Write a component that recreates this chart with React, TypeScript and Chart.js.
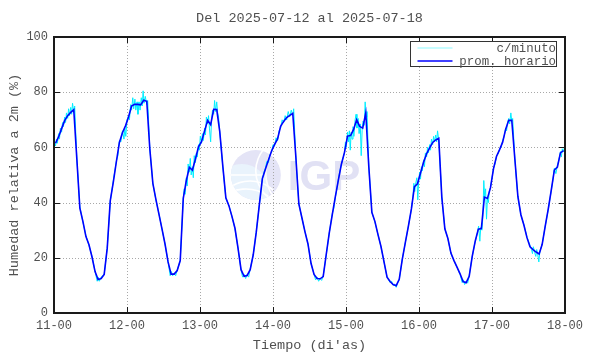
import React, { useEffect, useRef } from "react";
import { Chart, registerables } from "chart.js";

Chart.register(...registerables);

const TITLE = "Del 2025-07-12 al 2025-07-18";
const Y_TITLE = "Humedad relativa a 2m (%)";
const X_TITLE = "Tiempo (di'as)";
const DAY_LABELS = ["11-00", "12-00", "13-00", "14-00", "15-00", "16-00", "17-00", "18-00"];
const HOURS_PER_DAY = 24;
const Y_MIN = 0;
const Y_MAX = 100;
const Y_STEP = 20;
const SERIES_LABELS = ["c/minuto", "prom. horario"];
const WATERMARK = "IGP";

// hourly mean RH (%), one value per hour (plotted at the half hour), hours since 11-00
const HOURLY_RH = [
  61.5, 63.8, 66.8, 69.7, 71.5, 72.7, 73.7, 56, 38, 33.2, 27.7, 24.7, 20.3, 15, 12.1, 12.5, 14, 23.5, 40.7, 47.4, 54.8, 61.8, 65.3, 67.8,
  71, 75, 75.6, 75.6, 75.4, 77.1, 76.7, 59.5, 47, 41.2, 35.8, 30.5, 25, 18.5, 14.1, 14.1, 15.4, 19, 41.5, 48, 52.8, 51.7, 55.8, 60.2,
  62.1, 65.9, 69.8, 68.2, 73.8, 73.7, 65.7, 53.2, 41.7, 38.9, 35, 30.7, 23.5, 15.7, 13.3, 13.6, 15.7, 21.1, 29.3, 39.2, 48.7, 52.1, 55.4, 58.6,
  61, 63.1, 67.6, 69.4, 70.8, 71.6, 72.3, 56.8, 39.5, 34.5, 29.5, 25, 18, 14, 12.5, 12.4, 13.2, 21.2, 29, 35.7, 42.2, 48.2, 54, 58.2,
  64.1, 64.3, 66.5, 70, 67.6, 67, 72.5, 53, 36.5, 33.2, 28.5, 24.1, 18.5, 13, 11.4, 10.3, 9.9, 12.2, 19.4, 25.5, 31.4, 37.7, 45.8, 46.8,
  50.7, 54.6, 57.7, 59.8, 61.8, 62.7, 63.3, 42, 30.5, 27, 21.7, 19, 16.6, 14.2, 11.4, 11, 13.3, 20.5, 26.1, 30.4, 30.6, 42, 41.5, 45.4,
  52.3, 56.8, 59.2, 61.9, 66.6, 69.8, 69.8, 56, 42.3, 35.6, 31.8, 27.3, 24, 23, 22.1, 21.4, 24.9, 31.5, 37.7, 44.6, 51.8, 52.9, 58, 58.8,
];

// per-minute RH samples: [hours since 11-00, RH %]
const MINUTE_RH: [number, number][] = [
  [0, 55], [0.1, 62], [0.5, 60.5], [0.8, 63], [1.1, 61.5], [1.5, 65], [1.8, 63], [2.1, 67], [2.5, 65.5], [2.8, 69], [3.1, 67.5], [3.5, 71], [3.8, 69], [4.1, 72.5], [4.5, 70.5], [4.8, 74], [5.1, 71.5], [5.5, 74.5], [5.8, 72], [6.1, 76], [6.5, 72.5], [6.8, 75],
  [7.5, 56], [8.5, 38.5], [9.5, 33], [10.5, 28], [11.5, 24.5], [12.5, 20.5], [13.5, 15], [14.2, 11.5], [14.5, 13], [14.9, 11.5], [15.5, 13], [16.5, 14], [17.5, 23.5], [18.5, 40.5], [19.5, 48], [20.5, 55], [21, 57], [21.5, 62.5], [22, 62], [22.5, 66], [23, 63], [23.3, 67], [23.6, 64],
  [24, 70], [24.5, 71.5], [24.8, 70], [25.2, 75.5], [25.5, 73.5], [25.9, 78], [26.2, 74], [26.6, 77.5], [26.9, 73.5], [27.3, 76.5], [27.6, 72], [28, 76.5], [28.3, 73.5], [28.7, 78], [29, 75], [29.3, 80.5], [29.6, 76], [30, 78.5], [30.5, 75.5], [30.8, 77],
  [31.5, 59.5], [32.5, 47], [33.5, 41], [34.5, 36], [35.5, 30.5], [36.5, 25], [37.5, 18.5], [38.2, 13.5], [38.6, 15], [39, 13.5], [39.5, 14.5], [40, 13.5], [40.5, 15.5], [41.5, 19],
  [42.5, 41.5], [42.8, 45], [43.1, 43], [43.5, 49], [43.8, 46], [44.1, 54], [44.5, 51], [44.8, 56], [45.1, 50], [45.5, 53], [45.8, 49], [46.1, 57], [46.5, 54.5], [46.8, 58], [47.1, 56.5], [47.5, 61], [47.8, 59],
  [48.1, 64], [48.5, 61.5], [48.8, 65], [49.1, 62.5], [49.5, 67], [49.8, 64.5], [50.1, 71], [50.5, 68.5], [50.8, 71.5], [51.1, 67], [51.5, 62], [51.8, 70], [52.1, 73.5], [52.5, 72], [52.8, 77], [53.1, 73], [53.5, 76.5], [53.8, 72.5], [54.1, 71],
  [54.5, 65.5], [55.5, 53], [56.5, 41.5], [57.5, 39], [58.5, 35], [59.5, 30.5], [60.5, 23.5], [61.5, 15.5], [62, 13], [62.5, 14], [63, 12.5], [63.5, 14], [64, 13], [64.5, 16], [65.5, 21], [66.5, 29.5], [67.5, 39],
  [68.5, 48.5], [69, 51], [69.5, 52.5], [70, 55], [70.5, 54.5], [71, 57.5], [71.5, 58], [72, 61], [72.5, 60.5], [73, 63.5], [73.5, 62.5], [74, 66], [74.5, 67], [75, 70], [75.5, 69], [76, 71.5], [76.5, 70], [77, 73], [77.5, 71], [78, 73.5], [78.5, 71.5], [78.8, 74],
  [79.5, 56.5], [80.5, 39.5], [81.5, 34.5], [82.5, 29.5], [83.5, 25], [84.5, 18], [85.5, 14], [86, 12], [86.5, 13], [87, 11.5], [87.5, 12.5], [88, 11.8], [88.5, 13.5], [89.5, 21], [90.5, 29],
  [91.5, 36], [92, 38], [92.5, 42], [93, 45], [93.5, 48.5], [94, 51.5], [94.5, 54], [95, 56], [95.5, 58], [95.8, 62], [96.1, 60], [96.5, 65.5], [96.8, 62], [97.1, 66], [97.4, 59], [97.7, 65.5], [98, 63], [98.3, 67.5], [98.6, 64], [99, 70], [99.3, 72], [99.6, 67],
  [100, 70.5], [100.3, 65], [100.7, 68.5], [101, 57], [101.3, 66], [101.6, 69.5], [102, 68], [102.3, 76.5], [102.6, 71], [102.9, 73],
  [103.5, 53], [104.5, 36.5], [105.5, 33], [106.5, 28.5], [107.5, 24], [108.5, 18.5], [109.5, 13], [110.5, 11], [111, 11.5], [111.5, 10], [112, 10.5], [112.5, 9.3], [113, 11], [113.5, 12], [114.5, 19.5], [115.5, 25.5], [116.5, 31.5], [117.5, 37.5],
  [118, 42], [118.3, 47], [118.6, 44], [119, 47.5], [119.3, 49], [119.6, 41], [119.9, 48], [120.2, 51], [120.5, 48.5], [120.8, 53], [121.1, 51.5], [121.5, 55.5], [121.8, 53], [122.1, 58], [122.5, 56.5], [122.8, 60], [123.1, 58], [123.5, 61], [123.8, 59], [124.1, 63], [124.5, 61], [124.8, 64], [125.1, 62], [125.5, 64.5], [125.8, 62], [126.1, 66], [126.5, 62.5],
  [127.5, 42], [128.5, 30.5], [129.5, 27], [130.5, 21.5], [131.5, 19], [132.5, 16.5], [133.5, 14], [134.2, 11], [134.6, 12], [135, 10.3], [135.5, 11.5], [136, 10.8], [136.5, 13.5], [137.5, 20.5], [138.5, 26], [139.2, 29], [139.6, 31.5], [140, 26], [140.3, 31], [140.7, 30],
  [141, 35], [141.3, 48], [141.6, 42], [141.9, 45], [142.2, 34], [142.5, 42], [142.8, 40], [143.1, 44], [143.5, 45.5], [144, 49], [144.5, 52.5], [145, 54], [145.5, 57], [146, 57.5], [146.5, 59.5], [147, 60], [147.5, 62.5], [148, 64], [148.5, 67], [148.8, 66], [149.1, 69], [149.5, 70.5], [149.8, 68.5], [150.2, 72.5], [150.5, 69.5], [150.8, 70.5],
  [151.5, 56], [152.5, 42], [153.5, 35.5], [154.5, 32], [155.5, 27.5], [156.5, 24.5], [157, 23], [157.3, 21.5], [157.6, 24], [158, 22], [158.4, 20.5], [158.7, 23], [159, 21.5], [159.4, 18.5], [159.7, 22], [160.5, 25], [161.5, 31.5], [162.5, 37.5], [163.5, 44.5],
  [164, 48], [164.5, 52.5], [165, 50.5], [165.5, 53.5], [166, 55.5], [166.5, 58.5], [166.8, 56.5], [167.1, 59.5], [167.5, 58.5], [167.8, 60], [168, 59],
];

const MONO = "'Liberation Mono', 'DejaVu Sans Mono', monospace";
const TEXT_COLOR = "#505050";
const CYAN = "#00eeff";
const BLUE = "#0000ff";

const decorPlugin = {
  id: "gnuplotDecor",
  beforeDatasetsDraw(chart: any) {
    const { ctx, chartArea, scales } = chart;
    const { left, right, top, bottom } = chartArea;
    const w = right - left;
    const h = bottom - top;
    ctx.save();
    // watermark logo
    const cx = left + w * 0.395;
    const cy = top + h * 0.5;
    const r = 25;
    ctx.beginPath();
    ctx.arc(cx, cy, r, 0, Math.PI * 2);
    ctx.fillStyle = "#e4e4f6";
    ctx.fill();
    ctx.save();
    ctx.beginPath();
    ctx.arc(cx, cy, r, 0, Math.PI * 2);
    ctx.clip();
    ctx.beginPath();
    ctx.arc(cx - 14, cy + 16, 27, 0, Math.PI * 2);
    ctx.fillStyle = "#e9f3fc";
    ctx.fill();
    ctx.strokeStyle = "#ffffff";
    ctx.lineWidth = 1.6;
    ctx.beginPath();
    ctx.arc(cx + 34, cy - 4, 34, Math.PI * 0.62, Math.PI * 1.3);
    ctx.stroke();
    ctx.beginPath();
    ctx.arc(cx + 50, cy - 2, 40, Math.PI * 0.7, Math.PI * 1.25);
    ctx.stroke();
    ctx.beginPath();
    ctx.arc(cx - 6, cy + 40, 34, Math.PI * 1.2, Math.PI * 1.75);
    ctx.stroke();
    ctx.beginPath();
    ctx.arc(cx - 10, cy + 52, 38, Math.PI * 1.25, Math.PI * 1.7);
    ctx.stroke();
    ctx.beginPath();
    ctx.moveTo(cx - r, cy);
    ctx.lineTo(cx + 8, cy);
    ctx.stroke();
    ctx.restore();
    ctx.fillStyle = "#e1e1f4";
    ctx.font = "bold 42px 'Liberation Sans', Arial, sans-serif";
    ctx.textBaseline = "alphabetic";
    ctx.textAlign = "left";
    ctx.fillText(WATERMARK, cx + 32, cy + 15);

    // dotted grid
    ctx.strokeStyle = "#a8a8a8";
    ctx.lineWidth = 1;
    ctx.setLineDash([1, 2]);
    const xs = scales.x;
    const ys = scales.y;
    for (let d = 1; d < DAY_LABELS.length - 1; d++) {
      const px = Math.round(xs.getPixelForValue(d * HOURS_PER_DAY)) + 0.5;
      ctx.beginPath();
      ctx.moveTo(px, top);
      ctx.lineTo(px, bottom);
      ctx.stroke();
    }
    for (let v = Y_MIN + Y_STEP; v < Y_MAX; v += Y_STEP) {
      const py = Math.round(ys.getPixelForValue(v)) + 0.5;
      ctx.beginPath();
      ctx.moveTo(left, py);
      ctx.lineTo(right, py);
      ctx.stroke();
    }
    ctx.restore();
  },
  afterDatasetsDraw(chart: any) {
    const { ctx, chartArea, scales } = chart;
    const { left, right, top, bottom } = chartArea;
    const xs = scales.x;
    const ys = scales.y;
    ctx.save();
    ctx.strokeStyle = "#1a1a1a";
    ctx.lineWidth = 1;
    const tl = 6;
    for (let d = 1; d < DAY_LABELS.length - 1; d++) {
      const px = Math.round(xs.getPixelForValue(d * HOURS_PER_DAY)) + 0.5;
      ctx.beginPath();
      ctx.moveTo(px, bottom);
      ctx.lineTo(px, bottom - tl);
      ctx.moveTo(px, top);
      ctx.lineTo(px, top + tl);
      ctx.stroke();
    }
    for (let v = Y_MIN + Y_STEP; v < Y_MAX; v += Y_STEP) {
      const py = Math.round(ys.getPixelForValue(v)) + 0.5;
      ctx.beginPath();
      ctx.moveTo(left, py);
      ctx.lineTo(left + tl, py);
      ctx.moveTo(right, py);
      ctx.lineTo(right - tl, py);
      ctx.stroke();
    }
    ctx.lineWidth = 2;
    ctx.strokeRect(Math.round(left), Math.round(top), Math.round(right - left), Math.round(bottom - top));
    ctx.restore();
  },
  afterDraw(chart: any) {
    const { ctx, chartArea } = chart;
    const { right, top } = chartArea;
    const bw = 146;
    const bh = 25;
    const bx = Math.round(right - 9 - bw) + 0.5;
    const by = Math.round(top + 4) + 0.5;
    ctx.save();
    ctx.fillStyle = "#ffffff";
    ctx.fillRect(bx, by, bw, bh);
    ctx.strokeStyle = "#333333";
    ctx.lineWidth = 1;
    ctx.strokeRect(bx, by, bw, bh);
    ctx.font = `12.4px ${MONO}`;
    ctx.textAlign = "right";
    ctx.textBaseline = "middle";
    chart.data.datasets.forEach((ds: any, i: number) => {
      const ly = by + 6.5 + i * 13;
      ctx.save();
      ctx.strokeStyle = ds.borderColor;
      ctx.globalAlpha = i === 0 ? 0.3 : 1;
      ctx.lineWidth = i === 0 ? 1.5 : 1.6;
      ctx.beginPath();
      ctx.moveTo(bx + 7, ly);
      ctx.lineTo(bx + 42, ly);
      ctx.stroke();
      ctx.restore();
      ctx.fillStyle = TEXT_COLOR;
      ctx.fillText(ds.label, bx + bw - 0.5, ly + 1);
    });
    ctx.restore();
  },
};

export default function App() {
  const ref = useRef<HTMLCanvasElement | null>(null);

  useEffect(() => {
    const canvas = ref.current;
    if (!canvas) return;
    const hourly = HOURLY_RH.map((v, i) => ({ x: i + 0.5, y: v }));
    const minute = MINUTE_RH.map(([x, y]) => ({ x, y }));
    const tickFont = { family: MONO, size: 12, weight: "normal" as const };
    const titleFont = { family: MONO, size: 13.5, weight: "normal" as const, lineHeight: 1.2 };
    const chart = new Chart(canvas, {
      type: "line",
      data: {
        datasets: [
          {
            label: SERIES_LABELS[0],
            data: minute,
            borderColor: CYAN,
            borderWidth: 1,
            pointRadius: 0,
            tension: 0,
            order: 1,
          },
          {
            label: SERIES_LABELS[1],
            data: hourly,
            borderColor: BLUE,
            borderWidth: 1.6,
            pointRadius: 0,
            tension: 0,
            order: 0,
          },
        ],
      },
      options: {
        animation: false,
        responsive: false,
        devicePixelRatio: 1,
        events: [],
        layout: { padding: { left: 0, right: 25, top: 0, bottom: 0 } },
        plugins: {
          legend: { display: false },
          tooltip: { enabled: false },
          title: {
            display: true,
            text: TITLE,
            fullSize: false,
            color: TEXT_COLOR,
            font: titleFont,
            padding: { top: 10, bottom: 10.8 },
          },
        },
        scales: {
          x: {
            type: "linear",
            min: 0,
            max: (DAY_LABELS.length - 1) * HOURS_PER_DAY,
            afterFit: (s: any) => {
              s.height = 41;
            },
            grid: { display: false, drawTicks: false, tickLength: 0 },
            border: { display: false },
            ticks: {
              stepSize: HOURS_PER_DAY,
              autoSkip: false,
              maxRotation: 0,
              padding: 6,
              color: TEXT_COLOR,
              font: tickFont,
              callback: (v: any) => DAY_LABELS[Math.round(Number(v) / HOURS_PER_DAY)] ?? "",
            },
            title: {
              display: true,
              text: X_TITLE,
              color: TEXT_COLOR,
              font: titleFont,
              padding: { top: 0, bottom: 0 },
            },
          },
          y: {
            type: "linear",
            min: Y_MIN,
            max: Y_MAX,
            afterFit: (s: any) => {
              s.width = 54;
            },
            grid: { display: false, drawTicks: false, tickLength: 0 },
            border: { display: false },
            ticks: {
              stepSize: Y_STEP,
              padding: 6,
              color: TEXT_COLOR,
              font: tickFont,
            },
            title: {
              display: true,
              text: Y_TITLE,
              color: TEXT_COLOR,
              font: titleFont,
              padding: { top: 6, bottom: 0 },
            },
          },
        },
      },
      plugins: [decorPlugin],
    } as any);
    return () => chart.destroy();
  }, []);

  return (
    <div style={{ position: "absolute", left: 0, top: 0, width: 590, height: 354, background: "#ffffff" }}>
      <canvas ref={ref} width={590} height={354} style={{ display: "block", width: 590, height: 354 }} />
    </div>
  );
}
